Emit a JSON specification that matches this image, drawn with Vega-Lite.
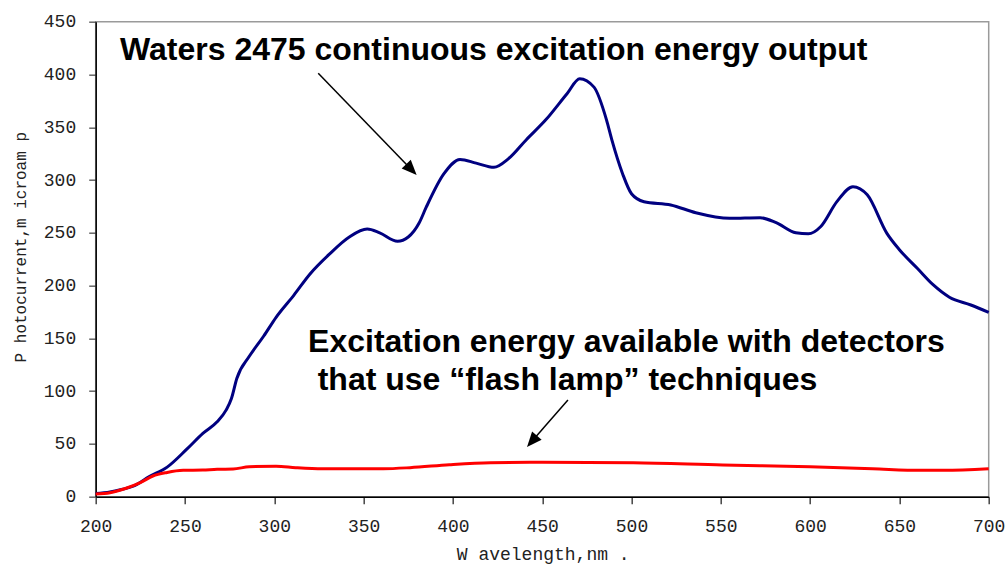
{
  "$schema": "https://vega.github.io/schema/vega-lite/v6.json",
  "width": 893,
  "height": 475,
  "autosize": "none",
  "padding": {"left": 95.7, "top": 21.7, "right": 16.3, "bottom": 68.3},
  "background": "white",
  "config": {
    "view": {"stroke": "#9a9a9a", "strokeWidth": 1.5},
    "axis": {
      "grid": false,
      "domainColor": "#000000",
      "domainWidth": 1.5,
      "tickColor": "#666666",
      "tickWidth": 1.5,
      "tickSize": 7,
      "labelFont": "Liberation Mono",
      "labelFontSize": 18,
      "labelColor": "#222222",
      "titleFont": "Liberation Mono",
      "titleFontWeight": "normal",
      "titleColor": "#222222",
      "labelFlush": false,
      "labelOverlap": false
    }
  },
  "datasets": {
    "blue": [
      {"wavelength": 200, "current": 3},
      {"wavelength": 208, "current": 4.5},
      {"wavelength": 215, "current": 7},
      {"wavelength": 221, "current": 10},
      {"wavelength": 230, "current": 19},
      {"wavelength": 240, "current": 28},
      {"wavelength": 251, "current": 45},
      {"wavelength": 260, "current": 60},
      {"wavelength": 268, "current": 71},
      {"wavelength": 273, "current": 82},
      {"wavelength": 276, "current": 93},
      {"wavelength": 279, "current": 112},
      {"wavelength": 286, "current": 133},
      {"wavelength": 294, "current": 152},
      {"wavelength": 301, "current": 170},
      {"wavelength": 311, "current": 191},
      {"wavelength": 320, "current": 211},
      {"wavelength": 331, "current": 230},
      {"wavelength": 342, "current": 246},
      {"wavelength": 352, "current": 253.5},
      {"wavelength": 359, "current": 250},
      {"wavelength": 369, "current": 242},
      {"wavelength": 375, "current": 246},
      {"wavelength": 381, "current": 259},
      {"wavelength": 385, "current": 274},
      {"wavelength": 395, "current": 306},
      {"wavelength": 404, "current": 319.5},
      {"wavelength": 413, "current": 316},
      {"wavelength": 423, "current": 312},
      {"wavelength": 431, "current": 320},
      {"wavelength": 441, "current": 338},
      {"wavelength": 452, "current": 357},
      {"wavelength": 464, "current": 382},
      {"wavelength": 471, "current": 396},
      {"wavelength": 479, "current": 388},
      {"wavelength": 486, "current": 357},
      {"wavelength": 489, "current": 338},
      {"wavelength": 495, "current": 306},
      {"wavelength": 500, "current": 287},
      {"wavelength": 507, "current": 279.5},
      {"wavelength": 522, "current": 276.4},
      {"wavelength": 536, "current": 269},
      {"wavelength": 555, "current": 263.7},
      {"wavelength": 572, "current": 264.3},
      {"wavelength": 581, "current": 259.6},
      {"wavelength": 592, "current": 250},
      {"wavelength": 599, "current": 249},
      {"wavelength": 606, "current": 256},
      {"wavelength": 615, "current": 279.5},
      {"wavelength": 624, "current": 293.7},
      {"wavelength": 632, "current": 286},
      {"wavelength": 643, "current": 249.5},
      {"wavelength": 650, "current": 234},
      {"wavelength": 660, "current": 216.4},
      {"wavelength": 669, "current": 200.6},
      {"wavelength": 678, "current": 189},
      {"wavelength": 690, "current": 181.6},
      {"wavelength": 700, "current": 174.7}
    ],
    "red": [
      {"wavelength": 200, "current": 2.5},
      {"wavelength": 208, "current": 3.8},
      {"wavelength": 217, "current": 8},
      {"wavelength": 225, "current": 13.3},
      {"wavelength": 232, "current": 19.6},
      {"wavelength": 240, "current": 23},
      {"wavelength": 249, "current": 25},
      {"wavelength": 260, "current": 25.3},
      {"wavelength": 268, "current": 26},
      {"wavelength": 277, "current": 26.2},
      {"wavelength": 286, "current": 28.4},
      {"wavelength": 301, "current": 28.8},
      {"wavelength": 312, "current": 27.5},
      {"wavelength": 327, "current": 26.5},
      {"wavelength": 361, "current": 26.5},
      {"wavelength": 376, "current": 27.5},
      {"wavelength": 398, "current": 30.3},
      {"wavelength": 421, "current": 32.2},
      {"wavelength": 450, "current": 32.6},
      {"wavelength": 501, "current": 32.2},
      {"wavelength": 551, "current": 30},
      {"wavelength": 600, "current": 28.4},
      {"wavelength": 635, "current": 26.5},
      {"wavelength": 662, "current": 25},
      {"wavelength": 675, "current": 25},
      {"wavelength": 700, "current": 26.5}
    ],
    "notes": [
      {"wavelength": 213.6, "current": 413.5, "label": "Waters 2475 continuous excitation energy output"},
      {"wavelength": 318.9, "current": 137, "label": "Excitation energy available with detectors"},
      {"wavelength": 324.3, "current": 101, "label": "that use “flash lamp” techniques"}
    ],
    "arrows": [
      {"wavelength": 324.6, "current": 401.1, "wavelength2": 377, "current2": 309.5},
      {"wavelength": 464.4, "current": 91.6, "wavelength2": 443.5, "current2": 51}
    ],
    "tip1": [{"wavelength": 379.7, "current": 304.8}],
    "tip2": [{"wavelength": 441.5, "current": 47.1}]
  },
  "encoding": {
    "x": {
      "field": "wavelength",
      "type": "quantitative",
      "scale": {"domain": [200, 700], "nice": false, "zero": false},
      "axis": {
        "values": [200, 250, 300, 350, 400, 450, 500, 550, 600, 650, 700],
        "title": "W avelength,nm .",
        "titleFontSize": 18,
        "titleY": 62.5,
        "titleX": 447,
        "titleBaseline": "alphabetic",
        "labelBaseline": "alphabetic",
        "labelPadding": 28,
        "labelDx": -1,
        "tickColor": "#444444"
      }
    },
    "y": {
      "field": "current",
      "type": "quantitative",
      "scale": {"domain": [0, 450], "nice": false},
      "axis": {
        "values": [0, 50, 100, 150, 200, 250, 300, 350, 400, 450],
        "title": "P hotocurrent,m icroam p",
        "titleFontSize": 16,
        "titleX": -70,
        "titleY": 225,
        "titleAngle": -90,
        "titleAlign": "center",
        "titleBaseline": "alphabetic",
        "labelPadding": 13,
        "labelBaseline": "middle",
        "labelDy": -1
      }
    }
  },
  "layer": [
    {
      "data": {"name": "blue"},
      "mark": {"type": "line", "color": "#000080", "strokeWidth": 3, "interpolate": "monotone"}
    },
    {
      "data": {"name": "red"},
      "mark": {"type": "line", "color": "#ff0000", "strokeWidth": 3, "interpolate": "monotone"}
    },
    {
      "data": {"name": "notes"},
      "mark": {"type": "text", "font": "Liberation Sans", "fontWeight": "bold", "fontSize": 32, "align": "left", "baseline": "alphabetic", "color": "#000000"},
      "encoding": {"text": {"field": "label"}}
    },
    {
      "data": {"name": "arrows"},
      "mark": {"type": "rule", "color": "#000000", "strokeWidth": 1.5},
      "encoding": {
        "x2": {"field": "wavelength2"},
        "y2": {"field": "current2"}
      }
    },
    {
      "data": {"name": "tip1"},
      "mark": {"type": "point", "shape": "M0,0L-0.42,1L0.42,1Z", "filled": true, "color": "#000000", "opacity": 1, "size": 900, "angle": 136, "strokeWidth": 0}
    },
    {
      "data": {"name": "tip2"},
      "mark": {"type": "point", "shape": "M0,0L-0.42,1L0.42,1Z", "filled": true, "color": "#000000", "opacity": 1, "size": 900, "angle": 221, "strokeWidth": 0}
    }
  ]
}
